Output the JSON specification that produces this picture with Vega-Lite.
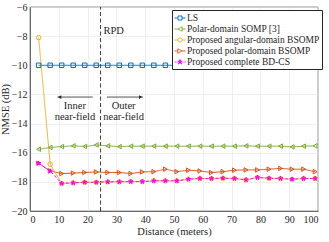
{
  "$schema": "https://vega.github.io/schema/vega-lite/v6.json",
  "autosize": {"type": "none"},
  "padding": {"left": 30, "top": 7, "right": 11, "bottom": 31},
  "width": 288,
  "height": 204,
  "config": {
    "font": "Liberation Serif",
    "view": {"stroke": "#262626", "strokeWidth": 0.6},
    "axis": {
      "labelFont": "Liberation Serif", "titleFont": "Liberation Serif",
      "labelFontSize": 10, "titleFontSize": 10.5, "labelColor": "#262626", "titleColor": "#262626",
      "titleFontWeight": 400, "domainColor": "#262626", "domainWidth": 0.6,
      "gridColor": "#e4e4e4", "gridWidth": 0.6, "ticks": false, "labelPadding": 3, "labelOverlap": false
    }
  },
  "datasets": {
    "curves": [
      {"d":3,"v":-10,"s":"LS"},{"d":7,"v":-10,"s":"LS"},{"d":11,"v":-10,"s":"LS"},{"d":15,"v":-10,"s":"LS"},{"d":19,"v":-10,"s":"LS"},{"d":23,"v":-10,"s":"LS"},{"d":27,"v":-10,"s":"LS"},{"d":31,"v":-10,"s":"LS"},{"d":35,"v":-10,"s":"LS"},{"d":39,"v":-10,"s":"LS"},{"d":43,"v":-10,"s":"LS"},{"d":47,"v":-10,"s":"LS"},{"d":51,"v":-10,"s":"LS"},{"d":55,"v":-10,"s":"LS"},{"d":59,"v":-10,"s":"LS"},{"d":63,"v":-10,"s":"LS"},{"d":67,"v":-10,"s":"LS"},{"d":71,"v":-10,"s":"LS"},{"d":75,"v":-10,"s":"LS"},{"d":79,"v":-10,"s":"LS"},{"d":83,"v":-10,"s":"LS"},{"d":87,"v":-10,"s":"LS"},{"d":91,"v":-10,"s":"LS"},{"d":95,"v":-10,"s":"LS"},{"d":99,"v":-10,"s":"LS"},
      {"d":3,"v":-15.76,"s":"Polar-domain SOMP [3]"},{"d":7,"v":-15.64,"s":"Polar-domain SOMP [3]"},{"d":11,"v":-15.58,"s":"Polar-domain SOMP [3]"},{"d":15,"v":-15.53,"s":"Polar-domain SOMP [3]"},{"d":19,"v":-15.57,"s":"Polar-domain SOMP [3]"},{"d":23,"v":-15.47,"s":"Polar-domain SOMP [3]"},{"d":27,"v":-15.53,"s":"Polar-domain SOMP [3]"},{"d":31,"v":-15.58,"s":"Polar-domain SOMP [3]"},{"d":35,"v":-15.55,"s":"Polar-domain SOMP [3]"},{"d":39,"v":-15.55,"s":"Polar-domain SOMP [3]"},{"d":43,"v":-15.55,"s":"Polar-domain SOMP [3]"},{"d":47,"v":-15.55,"s":"Polar-domain SOMP [3]"},{"d":51,"v":-15.55,"s":"Polar-domain SOMP [3]"},{"d":55,"v":-15.55,"s":"Polar-domain SOMP [3]"},{"d":59,"v":-15.55,"s":"Polar-domain SOMP [3]"},{"d":63,"v":-15.55,"s":"Polar-domain SOMP [3]"},{"d":67,"v":-15.55,"s":"Polar-domain SOMP [3]"},{"d":71,"v":-15.55,"s":"Polar-domain SOMP [3]"},{"d":75,"v":-15.53,"s":"Polar-domain SOMP [3]"},{"d":79,"v":-15.55,"s":"Polar-domain SOMP [3]"},{"d":83,"v":-15.55,"s":"Polar-domain SOMP [3]"},{"d":87,"v":-15.55,"s":"Polar-domain SOMP [3]"},{"d":91,"v":-15.6,"s":"Polar-domain SOMP [3]"},{"d":95,"v":-15.55,"s":"Polar-domain SOMP [3]"},{"d":99,"v":-15.53,"s":"Polar-domain SOMP [3]"},
      {"d":3,"v":-16.72,"s":"Proposed polar-domain BSOMP"},{"d":7,"v":-17.25,"s":"Proposed polar-domain BSOMP"},{"d":11,"v":-17.43,"s":"Proposed polar-domain BSOMP"},{"d":15,"v":-17.4,"s":"Proposed polar-domain BSOMP"},{"d":19,"v":-17.36,"s":"Proposed polar-domain BSOMP"},{"d":23,"v":-17.32,"s":"Proposed polar-domain BSOMP"},{"d":27,"v":-17.36,"s":"Proposed polar-domain BSOMP"},{"d":31,"v":-17.36,"s":"Proposed polar-domain BSOMP"},{"d":35,"v":-17.43,"s":"Proposed polar-domain BSOMP"},{"d":39,"v":-17.32,"s":"Proposed polar-domain BSOMP"},{"d":43,"v":-17.3,"s":"Proposed polar-domain BSOMP"},{"d":47,"v":-17.13,"s":"Proposed polar-domain BSOMP"},{"d":51,"v":-17.3,"s":"Proposed polar-domain BSOMP"},{"d":55,"v":-17.2,"s":"Proposed polar-domain BSOMP"},{"d":59,"v":-17.25,"s":"Proposed polar-domain BSOMP"},{"d":63,"v":-17.36,"s":"Proposed polar-domain BSOMP"},{"d":67,"v":-17.3,"s":"Proposed polar-domain BSOMP"},{"d":71,"v":-17.2,"s":"Proposed polar-domain BSOMP"},{"d":75,"v":-17.18,"s":"Proposed polar-domain BSOMP"},{"d":79,"v":-17.18,"s":"Proposed polar-domain BSOMP"},{"d":83,"v":-17.13,"s":"Proposed polar-domain BSOMP"},{"d":87,"v":-17.08,"s":"Proposed polar-domain BSOMP"},{"d":91,"v":-17.13,"s":"Proposed polar-domain BSOMP"},{"d":95,"v":-17.13,"s":"Proposed polar-domain BSOMP"},{"d":99,"v":-17.3,"s":"Proposed polar-domain BSOMP"},
      {"d":3,"v":-8.1,"s":"Proposed angular-domain BSOMP"},{"d":7,"v":-16.79,"s":"Proposed angular-domain BSOMP"},{"d":11,"v":-18.11,"s":"Proposed angular-domain BSOMP"},{"d":15,"v":-18.07,"s":"Proposed angular-domain BSOMP"},{"d":19,"v":-18.03,"s":"Proposed angular-domain BSOMP"},{"d":23,"v":-18.03,"s":"Proposed angular-domain BSOMP"},{"d":27,"v":-18.0,"s":"Proposed angular-domain BSOMP"},{"d":31,"v":-18.0,"s":"Proposed angular-domain BSOMP"},{"d":35,"v":-17.98,"s":"Proposed angular-domain BSOMP"},{"d":39,"v":-17.98,"s":"Proposed angular-domain BSOMP"},{"d":43,"v":-17.93,"s":"Proposed angular-domain BSOMP"},{"d":47,"v":-17.93,"s":"Proposed angular-domain BSOMP"},{"d":51,"v":-17.93,"s":"Proposed angular-domain BSOMP"},{"d":55,"v":-17.82,"s":"Proposed angular-domain BSOMP"},{"d":59,"v":-17.77,"s":"Proposed angular-domain BSOMP"},{"d":63,"v":-17.77,"s":"Proposed angular-domain BSOMP"},{"d":67,"v":-17.75,"s":"Proposed angular-domain BSOMP"},{"d":71,"v":-17.77,"s":"Proposed angular-domain BSOMP"},{"d":75,"v":-17.86,"s":"Proposed angular-domain BSOMP"},{"d":79,"v":-17.7,"s":"Proposed angular-domain BSOMP"},{"d":83,"v":-17.75,"s":"Proposed angular-domain BSOMP"},{"d":87,"v":-17.77,"s":"Proposed angular-domain BSOMP"},{"d":91,"v":-17.82,"s":"Proposed angular-domain BSOMP"},{"d":95,"v":-17.77,"s":"Proposed angular-domain BSOMP"},{"d":99,"v":-17.77,"s":"Proposed angular-domain BSOMP"},
      {"d":3,"v":-16.72,"s":"Proposed complete BD-CS"},{"d":7,"v":-17.25,"s":"Proposed complete BD-CS"},{"d":11,"v":-18.11,"s":"Proposed complete BD-CS"},{"d":15,"v":-18.07,"s":"Proposed complete BD-CS"},{"d":19,"v":-18.03,"s":"Proposed complete BD-CS"},{"d":23,"v":-18.03,"s":"Proposed complete BD-CS"},{"d":27,"v":-18.0,"s":"Proposed complete BD-CS"},{"d":31,"v":-18.0,"s":"Proposed complete BD-CS"},{"d":35,"v":-17.98,"s":"Proposed complete BD-CS"},{"d":39,"v":-17.98,"s":"Proposed complete BD-CS"},{"d":43,"v":-17.93,"s":"Proposed complete BD-CS"},{"d":47,"v":-17.93,"s":"Proposed complete BD-CS"},{"d":51,"v":-17.93,"s":"Proposed complete BD-CS"},{"d":55,"v":-17.82,"s":"Proposed complete BD-CS"},{"d":59,"v":-17.77,"s":"Proposed complete BD-CS"},{"d":63,"v":-17.77,"s":"Proposed complete BD-CS"},{"d":67,"v":-17.75,"s":"Proposed complete BD-CS"},{"d":71,"v":-17.77,"s":"Proposed complete BD-CS"},{"d":75,"v":-17.86,"s":"Proposed complete BD-CS"},{"d":79,"v":-17.7,"s":"Proposed complete BD-CS"},{"d":83,"v":-17.75,"s":"Proposed complete BD-CS"},{"d":87,"v":-17.77,"s":"Proposed complete BD-CS"},{"d":91,"v":-17.82,"s":"Proposed complete BD-CS"},{"d":95,"v":-17.77,"s":"Proposed complete BD-CS"},{"d":99,"v":-17.77,"s":"Proposed complete BD-CS"}
    ],
    "arrows": [
      {"a":"in","d":9.5,"v":-12.18},{"a":"in","d":21.8,"v":-12.18},
      {"a":"out","d":26.7,"v":-12.18},{"a":"out","d":39.2,"v":-12.18}
    ],
    "heads": [
      {"d":10.3,"v":-12.18,"sh":"triangle-left"},
      {"d":38.4,"v":-12.18,"sh":"triangle-right"}
    ],
    "notes": [
      {"d":15.6,"v":-12.8,"t":"Inner"},
      {"d":15.6,"v":-13.57,"t":"near-field"},
      {"d":32.5,"v":-12.8,"t":"Outer"},
      {"d":32.5,"v":-13.57,"t":"near-field"}
    ],
    "rpdlabel": [{"d":25.5,"v":-7.68,"t":"RPD"}],
    "rpd": [{"d":24.5,"v":-20,"v2":-6}]
  },
  "encoding": {
    "x": {"field": "d", "type": "quantitative", "scale": {"domain": [0, 100]},
          "axis": {"values": [0,10,20,30,40,50,60,70,80,90,100], "title": "Distance (meters)", "titlePadding": 2, "titleFontWeight": 400, "labelOverlap": false}},
    "y": {"field": "v", "type": "quantitative", "scale": {"domain": [-20, -6]},
          "axis": {"values": [-20,-18,-16,-14,-12,-10,-8,-6], "title": "NMSE (dB)", "titlePadding": 1, "titleFontWeight": 400, "labelOverlap": false}}
  },
  "layer": [
    {
      "data": {"name": "rpd"},
      "mark": {"type": "rule", "color": "#262626", "strokeDash": [4, 2.5], "strokeWidth": 0.9},
      "encoding": {"y2": {"field": "v2"}}
    },
    {
      "data": {"name": "curves"},
      "mark": {"type": "line", "strokeWidth": 1, "clip": true},
      "encoding": {
        "color": {"field": "s", "type": "nominal",
          "scale": {"domain": ["LS","Polar-domain SOMP [3]","Proposed angular-domain BSOMP","Proposed polar-domain BSOMP","Proposed complete BD-CS"],
                    "range": ["#0072BD","#77AC30","#EDB120","#D95319","#FF00FF"]},
          "legend": {
            "title": null, "orient": "none", "legendX": 142, "legendY": 3,
            "direction": "vertical",
            "fillColor": "white", "strokeColor": "#262626", "padding": 2,
            "labelFont": "Liberation Serif", "labelFontSize": 9.5, "labelColor": "#262626",
            "labelOffset": 1, "rowPadding": 0, "symbolSize": 121, "symbolStrokeWidth": 1,
            "labelLimit": 200,
            "encode": {"symbols": {"update": {
              "shape": {"signal": "datum.value === 'LS' ? 'M-1,0H-0.36M0.36,0H1M-0.36,-0.36H0.36V0.36H-0.36Z' : datum.value === 'Polar-domain SOMP [3]' ? 'M-1,0H-0.4M0.4,0H1M-0.4,0L0.4,-0.4L0.4,0.4Z' : datum.value === 'Proposed angular-domain BSOMP' ? 'M-1,0H-0.38M0.38,0H1M0.38,0A0.38,0.38 0 1,1 -0.38,0A0.38,0.38 0 1,1 0.38,0Z' : datum.value === 'Proposed polar-domain BSOMP' ? 'M-1,0H-0.4M0.4,0H1M0.4,0L-0.4,-0.4L-0.4,0.4Z' : 'M-1,0H-0.78M-0.64,0H-0.46M0.46,0H0.64M0.78,0H1M0,-0.45L0.1,-0.14L0.43,-0.14L0.16,0.05L0.26,0.36L0,0.17L-0.26,0.36L-0.16,0.05L-0.43,-0.14L-0.1,-0.14Z'"},
              "fill": {"signal": "datum.value === 'Proposed complete BD-CS' ? '#FF00FF' : 'transparent'"},
              "strokeDash": {"value": [1, 0]},
              "opacity": {"value": 1}
            }}}
          }
        },
        "strokeDash": {"field": "s", "type": "nominal", "legend": null,
          "scale": {"domain": ["LS","Polar-domain SOMP [3]","Proposed angular-domain BSOMP","Proposed polar-domain BSOMP","Proposed complete BD-CS"],
                    "range": [[1,0],[1,0],[1,0],[1,0],[3,2]]}},
        "order": {"field": "d", "type": "quantitative"}
      }
    },
    {
      "data": {"name": "curves"},
      "mark": {"type": "point", "filled": false, "size": 20, "strokeWidth": 1, "opacity": 1},
      "encoding": {
        "color": {"field": "s", "type": "nominal", "legend": null},
        "shape": {"field": "s", "type": "nominal", "legend": null,
          "scale": {"domain": ["LS","Polar-domain SOMP [3]","Proposed angular-domain BSOMP","Proposed polar-domain BSOMP","Proposed complete BD-CS"],
                    "range": ["square","triangle-left","circle","triangle-right","M0,-1L0.223,-0.307L0.951,-0.309L0.361,0.117L0.588,0.809L0,0.38L-0.588,0.809L-0.361,0.117L-0.951,-0.309L-0.223,-0.307Z"]}},
        "fill": {"field": "s", "type": "nominal", "legend": null,
          "scale": {"domain": ["LS","Polar-domain SOMP [3]","Proposed angular-domain BSOMP","Proposed polar-domain BSOMP","Proposed complete BD-CS"],
                    "range": ["transparent","transparent","transparent","transparent","#FF00FF"]}}
      }
    },
    {
      "data": {"name": "arrows"},
      "mark": {"type": "line", "color": "#262626", "strokeWidth": 0.8},
      "encoding": {"detail": {"field": "a"}}
    },
    {
      "data": {"name": "heads"},
      "mark": {"type": "point", "filled": true, "color": "#262626", "size": 14, "opacity": 1},
      "encoding": {
        "shape": {"field": "sh", "type": "nominal", "scale": {"domain": ["triangle-left","triangle-right"], "range": ["triangle-left","triangle-right"]}, "legend": null}
      }
    },
    {
      "data": {"name": "notes"},
      "mark": {"type": "text", "font": "Liberation Serif", "fontSize": 10.5, "color": "#262626", "baseline": "middle", "align": "center"},
      "encoding": {"text": {"field": "t"}}
    },
    {
      "data": {"name": "rpdlabel"},
      "mark": {"type": "text", "font": "Liberation Serif", "fontSize": 10.5, "color": "#262626", "baseline": "middle", "align": "left"},
      "encoding": {"text": {"field": "t"}}
    }
  ],
  "resolve": {"scale": {"shape": "independent"}}
}
